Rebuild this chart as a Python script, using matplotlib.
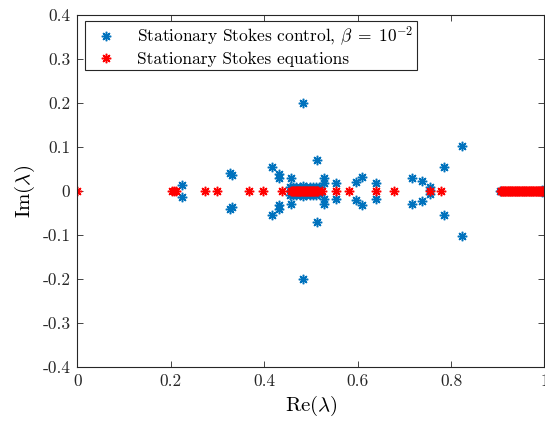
import numpy as np
import matplotlib
matplotlib.use("Agg")
import matplotlib.pyplot as plt

plt.rcParams['font.family'] = 'serif'
plt.rcParams['font.serif'] = ['cmr10']
plt.rcParams['mathtext.fontset'] = 'cm'
plt.rcParams['axes.unicode_minus'] = False

# eigenvalues of the Stokes equations (all real)
eq_re = [0.0, 0.2015, 0.206, 0.212, 0.273, 0.298, 0.367, 0.397, 0.439,
         # cluster near 0.5
         0.4580, 0.4595, 0.4610, 0.4625, 0.4640, 0.4655, 0.4670, 0.4685,
         0.4700, 0.4715, 0.4730, 0.4745, 0.4760, 0.4775, 0.4790, 0.4805,
         0.4820, 0.4835, 0.4850, 0.4865, 0.4880, 0.4895, 0.4910, 0.4925,
         0.4940, 0.4955, 0.4970, 0.4985, 0.5000, 0.5015, 0.5030, 0.5045,
         0.5060, 0.5075, 0.5090, 0.5105, 0.5120, 0.5135, 0.5150,
         0.524, 0.553, 0.581, 0.640, 0.678, 0.756, 0.778,
         # accumulation near 1
         0.9060, 0.9075, 0.9090, 0.9105, 0.9120, 0.9135, 0.9150, 0.9165,
         0.9180, 0.9195, 0.9210, 0.9225, 0.9240, 0.9255, 0.9270, 0.9285,
         0.9300, 0.9315, 0.9330, 0.9345, 0.9360, 0.9375, 0.9390, 0.9405,
         0.9420, 0.9435, 0.9450, 0.9465, 0.9480, 0.9495, 0.9510, 0.9525,
         0.9540, 0.9555, 0.9570, 0.9585, 0.9600, 0.9615, 0.9630, 0.9645,
         0.9660, 0.9675, 0.9690, 0.9705, 0.9720, 0.9735, 0.9750, 0.9765,
         0.9780, 0.9795, 0.9810, 0.9825, 0.9840, 0.9855, 0.9870, 0.9885,
         0.9900, 0.9915, 0.9930, 0.9945, 0.9960, 0.9975, 0.9990, 1.0]
eq_im = [0.0] * len(eq_re)

# eigenvalues of the control problem, beta = 1e-2
ctrl_re = [0.223, 0.223, 0.326, 0.330, 0.326, 0.330, 0.417, 0.417,
           0.431, 0.431, 0.431, 0.431, 0.457, 0.457, 0.482, 0.482,
           0.513, 0.513, 0.528, 0.528, 0.528, 0.528, 0.554, 0.554,
           0.596, 0.596, 0.609, 0.609, 0.640, 0.640, 0.716, 0.716,
           0.738, 0.738, 0.756, 0.756, 0.754, 0.785, 0.785, 0.823, 0.823,
           # cluster around 0.5
           0.455, 0.462, 0.469, 0.476, 0.483, 0.490, 0.497, 0.504, 0.511,
           0.517,
           0.455, 0.462, 0.469, 0.476, 0.483, 0.490, 0.497, 0.504, 0.511,
           0.517,
           0.905, 0.995, 1.0, 0.995, 1.0]
ctrl_im = [0.013, -0.013, 0.041, 0.036, -0.041, -0.036, 0.055, -0.055,
           0.039, 0.030, -0.032, -0.042, 0.030, -0.029, 0.2, -0.2,
           0.070, -0.070, 0.030, 0.018, -0.019, -0.029, 0.019, -0.019,
           0.020, -0.020, 0.032, -0.032, 0.017, -0.019, 0.030, -0.030,
           0.022, -0.023, 0.009, -0.008, 0.002, 0.055, -0.055, 0.102, -0.102,
           0.009, 0.010, 0.009, 0.010, 0.011, 0.010, 0.009, 0.010, 0.009,
           0.008,
           -0.009, -0.010, -0.009, -0.010, -0.011, -0.010, -0.009, -0.010,
           -0.009, -0.008,
           0.0, 0.003, 0.003, -0.003, -0.003]

xticks = [0, 0.2, 0.4, 0.6, 0.8, 1]
xticklabels = ['0', '0.2', '0.4', '0.6', '0.8', '1']
yticks = [-0.4, -0.3, -0.2, -0.1, 0, 0.1, 0.2, 0.3, 0.4]
yticklabels = ['-0.4', '-0.3', '-0.2', '-0.1', '0', '0.1', '0.2', '0.3', '0.4']

blue = '#0072BD'
red = '#FF0000'
star = (8, 2, 0)

fig = plt.figure(figsize=(5.45, 4.26), dpi=100)
ax = fig.add_axes([0.142, 0.1385, 0.857, 0.8265])

ax.plot(ctrl_re, ctrl_im, linestyle='none', marker=star, color=blue,
        markersize=6.8, markeredgewidth=1.1,
        label=r'Stationary Stokes control, $\beta\;=\;10^{-2}$')
ax.plot(eq_re, eq_im, linestyle='none', marker=star, color=red,
        markersize=6.8, markeredgewidth=1.1,
        label='Stationary Stokes equations')

ax.set_xlim(0, 1)
ax.set_ylim(-0.4, 0.4)
ax.set_xticks(xticks)
ax.set_xticklabels(xticklabels)
ax.set_yticks(yticks)
ax.set_yticklabels(yticklabels)
ax.tick_params(direction='in', top=True, right=True, length=4,
               width=0.6, labelsize=12.5, pad=5, colors='#262626')
for s in ax.spines.values():
    s.set_linewidth(0.8)
    s.set_color('#262626')

ax.set_xlabel(r'Re$(\lambda)$', fontsize=15, labelpad=3)
ax.set_ylabel(r'Im$(\lambda)$', fontsize=15, labelpad=4)

leg = ax.legend(loc='upper left', bbox_to_anchor=(0.016, 0.983),
                borderaxespad=0, fancybox=False, framealpha=1,
                edgecolor='#262626', fontsize=12.5, handlelength=2.0,
                handletextpad=0.8, borderpad=0.2, labelspacing=0.2)
leg.get_frame().set_linewidth(0.8)

fig.savefig('out.png', dpi=100)
